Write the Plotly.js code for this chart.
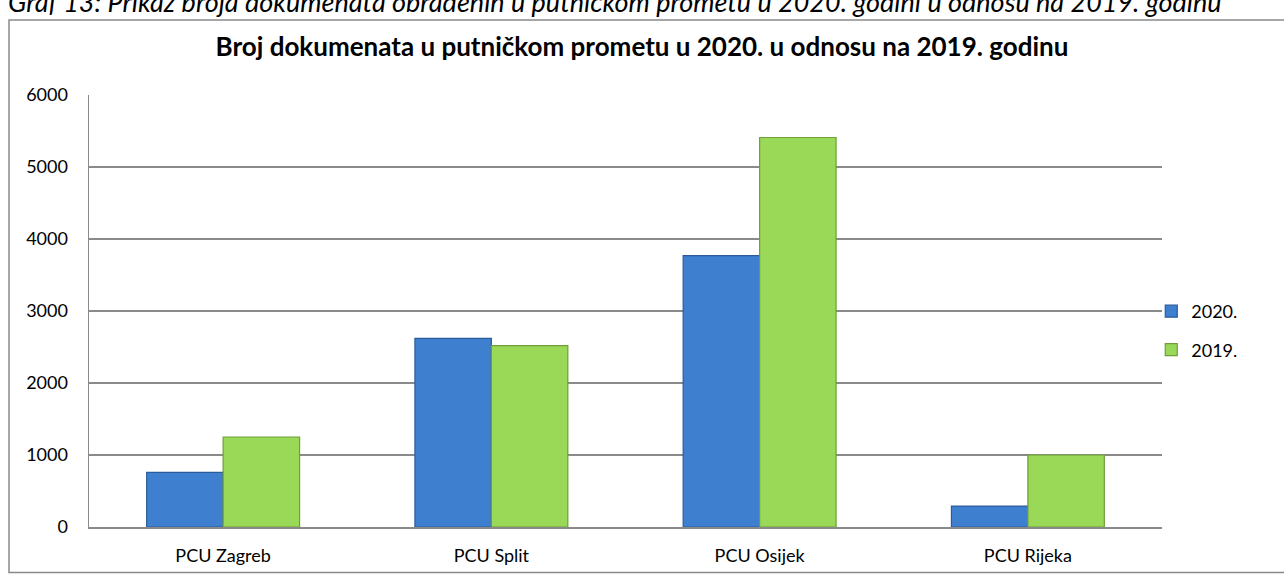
<!DOCTYPE html>
<html>
<head>
<meta charset="utf-8">
<script src="https://cdn.plot.ly/plotly-3.0.1.min.js"></script>
<style>html,body{margin:0;padding:0;background:#fff;}#chart{width:1284px;height:578px;}</style>
</head>
<body>
<div id="chart"></div>
<script>
const categories = ["PCU Zagreb", "PCU Split", "PCU Osijek", "PCU Rijeka"];
const values2020 = [760, 2620, 3770, 290];
const values2019 = [1250, 2520, 5410, 1000];
const seriesNames = ["2020.", "2019."];
const yTicks = [0, 1000, 2000, 3000, 4000, 5000, 6000];

const FONT = "Lato, 'Open Sans', sans-serif";

const traces = [
  {
    type: "bar", name: seriesNames[0], x: categories, y: values2020,
    legendgroup: "a",
    marker: { color: "#3F7FCF", line: { color: "#2B5C99", width: 1.2 } }
  },
  {
    type: "bar", name: seriesNames[1], x: categories, y: values2019,
    legendgroup: "b",
    marker: { color: "#9AD957", line: { color: "#6F9E3A", width: 1.2 } }
  }
];

const layout = {
  width: 1284, height: 578,
  margin: { l: 89, r: 122, t: 95, b: 51 },
  paper_bgcolor: "#ffffff", plot_bgcolor: "#ffffff",
  font: { family: FONT, color: "#000000", size: 18 },
  barmode: "group",
  bargap: 0.43, bargroupgap: 0,
  showlegend: true,
  title: {
    text: "<b>Broj dokumenata u putničkom prometu u 2020. u odnosu na 2019. godinu</b>",
    font: { family: FONT, size: 26, color: "#000000" },
    x: 0.5, xanchor: "center", xref: "container",
    y: 1 - 47 / 578, yanchor: "middle", yref: "container"
  },
  xaxis: {
    type: "category",
    showgrid: false, zeroline: false,
    showline: true, linecolor: "#8a8a8a", linewidth: 1.5,
    ticks: "", tickfont: { family: FONT, size: 18 },
    ticklabelstandoff: 12
  },
  yaxis: {
    range: [0, 6000], tickvals: yTicks,
    showgrid: true, gridcolor: "#8a8a8a", gridwidth: 1.5,
    zeroline: false,
    showline: true, linecolor: "#8a8a8a", linewidth: 1.5,
    ticks: "", tickfont: { family: FONT, size: 18 },
    ticklabelstandoff: 16
  },
  legend: {
    x: 0.99, xanchor: "left", y: 0.455, yanchor: "middle",
    font: { family: FONT, size: 18 },
    traceorder: "grouped", tracegroupgap: 12,
    itemwidth: 30, bgcolor: "rgba(0,0,0,0)"
  },
  shapes: [
    {
      type: "rect", xref: "paper", yref: "paper",
      x0: (9 - 89) / 1073, x1: (1290 - 89) / 1073,
      y0: (51 - 10) / 432 - 0.2, y1: 1 + (95 - 20) / 432,
      line: { color: "#8a8a8a", width: 1.5 }, fillcolor: "rgba(0,0,0,0)", layer: "below"
    }
  ],
  annotations: [
    {
      text: "<i>Graf 13: Prikaz broja dokumenata obrađenih u putničkom prometu u 2020. godini u odnosu na 2019. godinu</i>",
      xref: "paper", yref: "paper",
      x: (6 - 89) / 1073, xanchor: "left",
      y: 1 + (95 - 1) / 432, yanchor: "middle",
      showarrow: false,
      font: { family: FONT, size: 27, color: "#000000" }
    }
  ]
};

Plotly.newPlot("chart", traces, layout, { displayModeBar: false, staticPlot: true });
</script>
</body>
</html>
